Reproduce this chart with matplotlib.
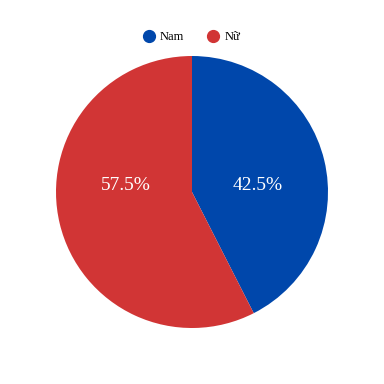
import matplotlib.pyplot as plt
from matplotlib.lines import Line2D

plt.rcParams['font.family'] = ['Liberation Serif', 'DejaVu Serif']

labels = ['Nam', 'Nữ']
values = [42.5, 57.5]
colors = ['#0047AB', '#D13535']

fig = plt.figure(figsize=(3.84, 3.84), dpi=100)
ax = fig.add_axes([56 / 384, 56 / 384, 272 / 384, 272 / 384])
wedges, texts, autotexts = ax.pie(values, colors=colors, startangle=90, counterclock=False,
                                  autopct='%.1f%%', pctdistance=0.5, radius=1,
                                  textprops={'color': 'white', 'fontsize': 14})
# labels sit on one line, slightly above centre
for t in autotexts:
    x, y = t.get_position()
    t.set_position((x, 0.05))
ax.set_xlim(-1, 1)
ax.set_ylim(-1, 1)
ax.set_aspect('equal')

handles = [Line2D([], [], marker='o', linestyle='', markersize=8.5, color=c) for c in colors]
fig.legend(handles, labels, loc='center', bbox_to_anchor=(0.5, 1 - 37 / 384), ncol=2,
           frameon=False, fontsize=9, handlelength=0.8, handletextpad=0.5, columnspacing=1.9)

fig.savefig('out.png', dpi=100)
